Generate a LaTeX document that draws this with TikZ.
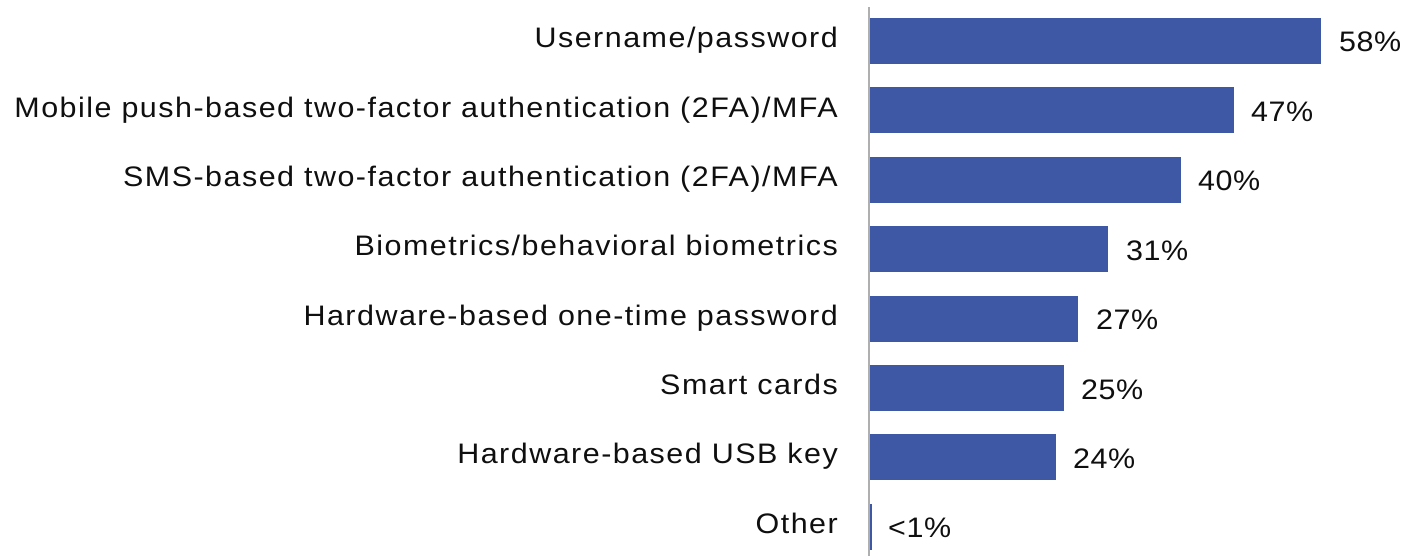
\documentclass[tikz,border=0pt]{standalone}
\usepackage{fontspec}
\setmainfont[LetterSpace=5.3,FakeStretch=1.08]{Liberation Sans}
\newfontfamily\pctfont[LetterSpace=2,FakeStretch=1.08]{Liberation Sans}
\definecolor{barblue}{RGB}{62,88,165}
\definecolor{axisgrey}{RGB}{175,175,175}
\definecolor{txt}{RGB}{15,15,15}
\begin{document}
\begin{tikzpicture}[x=1pt,y=-1pt,
  bar/.style={fill=barblue,draw=none,anchor=west,minimum height=46pt,inner sep=0pt,outer sep=0pt},
  lbl/.style={anchor=base east,inner sep=0pt,font=\fontsize{28.2}{32}\selectfont,text=txt},
  pct/.style={anchor=base west,inner sep=0pt,font=\pctfont\fontsize{28.2}{32}\selectfont,text=txt}]
\useasboundingbox (0,0) rectangle (1405,556);
\coordinate (axtop) at (869,7);
\coordinate (axbot) at (869,556);
\draw[axisgrey,line width=1.2pt] (axtop) -- (axbot);
% bars
\node[bar,minimum width=451pt] (b1) at (870,41) {};
\node[bar,minimum width=364pt] (b2) at (870,110.4) {};
\node[bar,minimum width=311pt] (b3) at (870,179.8) {};
\node[bar,minimum width=238pt] (b4) at (870,249.2) {};
\node[bar,minimum width=208pt] (b5) at (870,318.6) {};
\node[bar,minimum width=194pt] (b6) at (870,388) {};
\node[bar,minimum width=186pt] (b7) at (870,457.4) {};
\node[bar,minimum width=2pt] (b8) at (870,526.8) {};
% category labels
\node[lbl] (l1) at (838,48) {Username/password};
\node[lbl] (l2) at (838,117.3) {Mobile push-based two-factor authentication (2FA)/MFA};
\node[lbl] (l3) at (838,186.6) {SMS-based two-factor authentication (2FA)/MFA};
\node[lbl] (l4) at (838,255.9) {Biometrics/behavioral biometrics};
\node[lbl] (l5) at (838,325.2) {Hardware-based one-time password};
\node[lbl] (l6) at (838,394.5) {Smart cards};
\node[lbl] (l7) at (838,463.8) {Hardware-based USB key};
\node[lbl] (l8) at (838,533.5) {Other};
% value labels
\node[pct] (p1) at ([xshift=18pt,yshift=-11pt]b1.east) {58\%};
\node[pct] (p2) at ([xshift=17pt,yshift=-11pt]b2.east) {47\%};
\node[pct] (p3) at ([xshift=17pt,yshift=-11pt]b3.east) {40\%};
\node[pct] (p4) at ([xshift=18pt,yshift=-11pt]b4.east) {31\%};
\node[pct] (p5) at ([xshift=18pt,yshift=-11pt]b5.east) {27\%};
\node[pct] (p6) at ([xshift=17pt,yshift=-11pt]b6.east) {25\%};
\node[pct] (p7) at ([xshift=17pt,yshift=-11pt]b7.east) {24\%};
\node[pct] (p8) at ([xshift=16pt,yshift=-11pt]b8.east) {<1\%};
\end{tikzpicture}
\end{document}
